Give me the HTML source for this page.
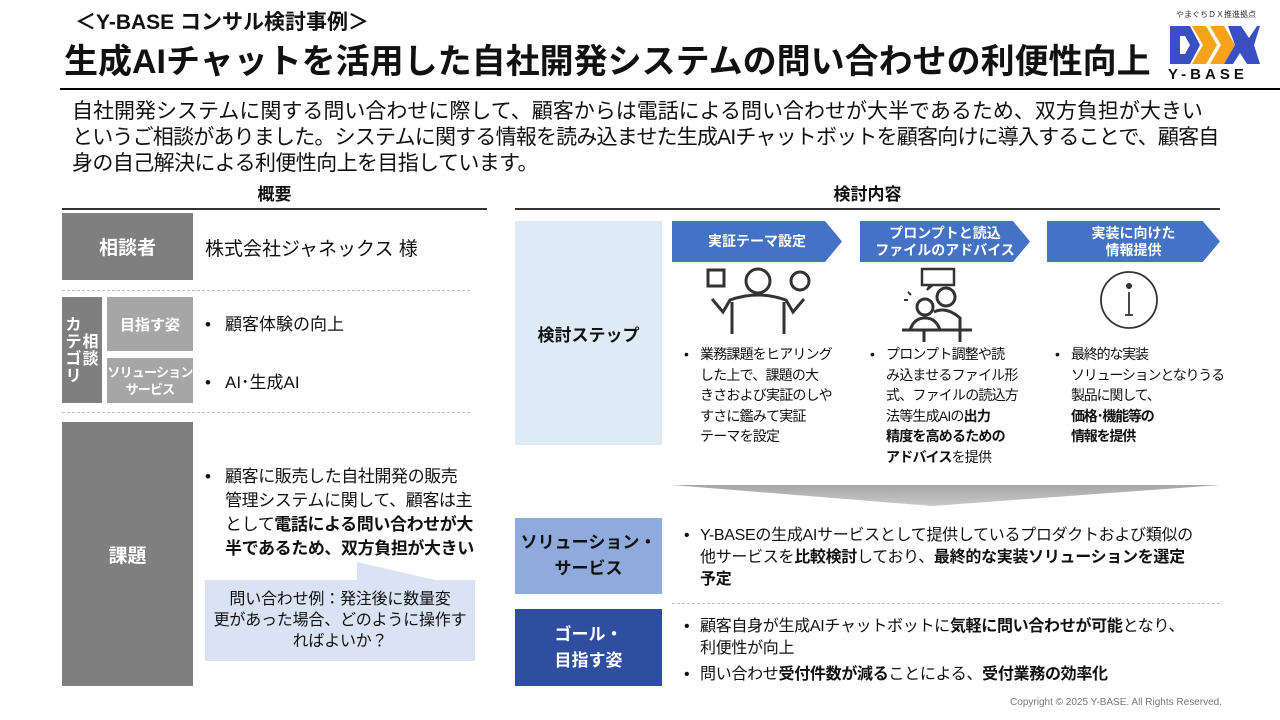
<!DOCTYPE html>
<html><head><meta charset="utf-8"><style>
*{margin:0;padding:0;box-sizing:border-box}
body{width:1280px;height:720px;overflow:hidden;background:#fff;position:relative;font-family:"Liberation Sans","Noto Sans CJK JP",sans-serif;color:#111}
.a{position:absolute;white-space:nowrap}
.box{position:absolute;display:flex;align-items:center;justify-content:center;text-align:center;color:#fff;font-weight:bold;white-space:nowrap}
.dash{position:absolute;height:0;border-top:1.5px dashed #bfbfbf}
.b{position:absolute;font-size:14px;line-height:20.5px;padding-left:16px;white-space:nowrap;letter-spacing:-0.8px}
.b:before{content:"•";position:absolute;left:0}
.chev{position:absolute;top:221px;height:41px;background:#4472c4;color:#fff;font-weight:bold;font-size:14px;line-height:17px;display:flex;align-items:center;justify-content:center;text-align:center;clip-path:polygon(0 0,90% 0,100% 50%,90% 100%,0 100%)}
</style></head><body>
<div class="a" style="left:75px;top:10px;font-size:21px;font-weight:bold;line-height:26px">＜Y-BASE コンサル検討事例＞</div>
<div class="a" style="left:64px;top:42px;font-size:34px;font-weight:bold;line-height:40px;letter-spacing:0px">生成AIチャットを活用した自社開発システムの問い合わせの利便性向上</div>
<div class="a" style="left:60px;top:88px;width:1220px;height:2px;background:#000"></div>
<div class="a" style="left:1176px;top:9px;font-size:8px;color:#333">やまぐちＤＸ推進拠点</div>
<svg class="a" style="left:1168px;top:22px" width="92" height="46" viewBox="0 0 92 46">
<path d="M2 4h20l10 19-10 19H2z M12 14v18h5l5-9-5-9z" fill="#3a4fc4" fill-rule="evenodd"/>
<path d="M24 4h14l11 19-11 19H24l11-19z" fill="#f7a21b"/>
<path d="M42 4h14l11 19-11 19H42l11-19z" fill="#f7a21b"/>
<path d="M60 4h13l8 12 8-12h3L86 23l6 19h-13l-7-11-7 11h-9l11-19z" fill="#3a4fc4"/>
</svg>
<div class="a" style="left:1168px;top:66px;font-size:15px;font-weight:bold;letter-spacing:4px">Y-BASE</div>
<div class="a" style="left:72px;top:99px;font-size:21px;line-height:26px;letter-spacing:-0.6px"><span style="letter-spacing:0px">自社開発システムに関する問い合わせに際して、顧客からは電話による問い合わせが大半であるため、双方負担が大きい</span><br><span style="letter-spacing:-0.8px">というご相談がありました。システムに関する情報を読み込ませた生成AIチャットボットを顧客向けに導入することで、顧客自</span><br>身の自己解決による利便性向上を目指しています。</div>
<div class="a" style="left:62px;width:425px;top:180px;text-align:center;font-size:17px;font-weight:bold">概要</div>
<div class="a" style="left:62px;width:425px;top:208px;height:1.5px;background:#333"></div>
<div class="a" style="left:515px;width:705px;top:180px;text-align:center;font-size:17px;font-weight:bold">検討内容</div>
<div class="a" style="left:515px;width:705px;top:208px;height:1.5px;background:#333"></div>
<div class="box" style="left:62px;top:213px;width:131px;height:67px;background:#7f7f7f;font-size:19px">相談者</div>
<div class="a" style="left:205px;top:234px;font-size:19px">株式会社ジャネックス 様</div>
<div class="dash" style="left:62px;top:290px;width:408px"></div>
<div class="box" style="left:62px;top:297px;width:40px;height:106px;background:#7f7f7f;font-size:16px;line-height:17px;align-items:flex-start;padding-top:20px"><div style="width:17px;white-space:normal">カテゴリ</div><div style="width:17px;white-space:normal;margin-top:17px">相談</div></div>
<div class="box" style="left:107px;top:297px;width:86px;height:54px;background:#a6a6a6;font-size:15px">目指す姿</div>
<div class="box" style="left:107px;top:358px;width:86px;height:45px;background:#a6a6a6;font-size:13px;line-height:17px;letter-spacing:-0.8px">ソリューション<br>サービス</div>
<div class="b" style="left:205px;top:314px;font-size:17px;line-height:22px;padding-left:20px;letter-spacing:0">顧客体験の向上</div>
<div class="b" style="left:205px;top:372px;font-size:17px;line-height:22px;padding-left:20px;letter-spacing:0">AI･生成AI</div>
<div class="dash" style="left:62px;top:412px;width:408px"></div>
<div class="box" style="left:62px;top:422px;width:131px;height:264px;background:#7f7f7f;font-size:19px">課題</div>
<div class="b" style="left:205px;top:465px;font-size:17px;line-height:24px;padding-left:20px;letter-spacing:-0.4px">顧客に販売した自社開発の販売<br>管理システムに関して、顧客は主<br>として<b>電話による問い合わせが大<br>半であるため、双方負担が大きい</b></div>
<svg class="a" style="left:200px;top:555px" width="280" height="110"><polygon points="157,7 157,26 240,26" fill="#dae3f3"/></svg>
<div class="box" style="left:205px;top:580px;width:270px;height:81px;background:#dae3f3;color:#111;font-weight:normal;font-size:16px;line-height:21px;letter-spacing:-0.2px">問い合わせ例：発注後に数量変<br>更があった場合、どのように操作す<br>ればよいか？</div>
<div class="box" style="left:515px;top:221px;width:147px;height:224px;background:#deebf7;color:#111;font-size:17px">検討ステップ</div>
<div class="chev" style="left:672px;width:170px">実証テーマ設定</div>
<div class="chev" style="left:860px;width:170px">プロンプトと読込<br>ファイルのアドバイス</div>
<div class="chev" style="left:1047px;width:173px">実装に向けた<br>情報提供</div>
<svg class="a" style="left:672px;top:262px" width="548" height="80" fill="none" stroke="#333" stroke-width="3">
<rect x="36" y="8" width="16" height="16"/><circle cx="86" cy="19" r="12"/><circle cx="128" cy="19" r="9"/>
<path d="M40 37 L51 50 L58 38 Q86 28 114 38 L121 50 L132 37"/><path d="M60 40 V72 M112 40 V72"/>
<rect x="250" y="7" width="32" height="16" stroke-width="2.5"/><path d="M258 23 l-3 5 6-5" stroke-width="2"/>
<circle cx="274" cy="35" r="9"/><circle cx="253" cy="45" r="8"/>
<path d="M230 68 H300 M238 68 Q242 56 253 56 Q264 56 268 68 M262 50 Q274 44 288 56 V68 M252 68 V80 M288 68 V80"/>
<path d="M236 30 l3 3 M232 38 h4" stroke-width="2"/>
<circle cx="457" cy="38" r="28" stroke-width="1.8"/><path d="M457 30 V53 M453 53 h8" stroke-width="1.8"/><circle cx="457" cy="24" r="1.5" fill="#333"/>
</svg>
<div class="b" style="left:684px;top:344px">業務課題をヒアリング<br>した上で、課題の大<br>きさおよび実証のしや<br>すさに鑑みて実証<br>テーマを設定</div>
<div class="b" style="left:870px;top:344px">プロンプト調整や読<br>み込ませるファイル形<br>式、ファイルの読込方<br>法等生成AIの<b>出力<br>精度を高めるための<br>アドバイス</b>を提供</div>
<div class="b" style="left:1055px;top:344px;letter-spacing:-1.2px">最終的な実装<br>ソリューションとなりうる<br>製品に関して、<br><b>価格･機能等の<br>情報を提供</b></div>
<svg class="a" style="left:672px;top:484px" width="550" height="24"><defs><linearGradient id="g" x1="0" y1="0" x2="0" y2="1"><stop offset="0" stop-color="#a6a6a6"/><stop offset="1" stop-color="#c8c8c8"/></linearGradient></defs><polygon points="0,1 548,1 260,22" fill="url(#g)"/></svg>
<div class="box" style="left:515px;top:518px;width:147px;height:76px;background:#8faadc;color:#111;font-size:17px;line-height:26px">ソリューション・<br>サービス</div>
<div class="b" style="left:684px;top:525px;font-size:16px;line-height:22px;letter-spacing:-0.3px">Y-BASEの生成AIサービスとして提供しているプロダクトおよび類似の<br>他サービスを<b>比較検討</b>しており、<b>最終的な実装ソリューションを選定<br>予定</b></div>
<div class="dash" style="left:672px;top:603px;width:548px"></div>
<div class="box" style="left:515px;top:609px;width:147px;height:77px;background:#2f4ea0;font-size:17px;line-height:26px">ゴール・<br>目指す姿</div>
<div class="b" style="left:684px;top:616px;font-size:16px;line-height:22px;letter-spacing:-0.3px">顧客自身が生成AIチャットボットに<b>気軽に問い合わせが可能</b>となり、<br>利便性が向上</div>
<div class="b" style="left:684px;top:664px;font-size:16px;line-height:22px;letter-spacing:-0.3px">問い合わせ<b>受付件数が減る</b>ことによる、<b>受付業務の効率化</b></div>
<div class="a" style="left:960px;top:697px;width:262px;text-align:right;font-size:10px;color:#777">Copyright © 2025 Y-BASE. All Rights Reserved.</div>
</body></html>
